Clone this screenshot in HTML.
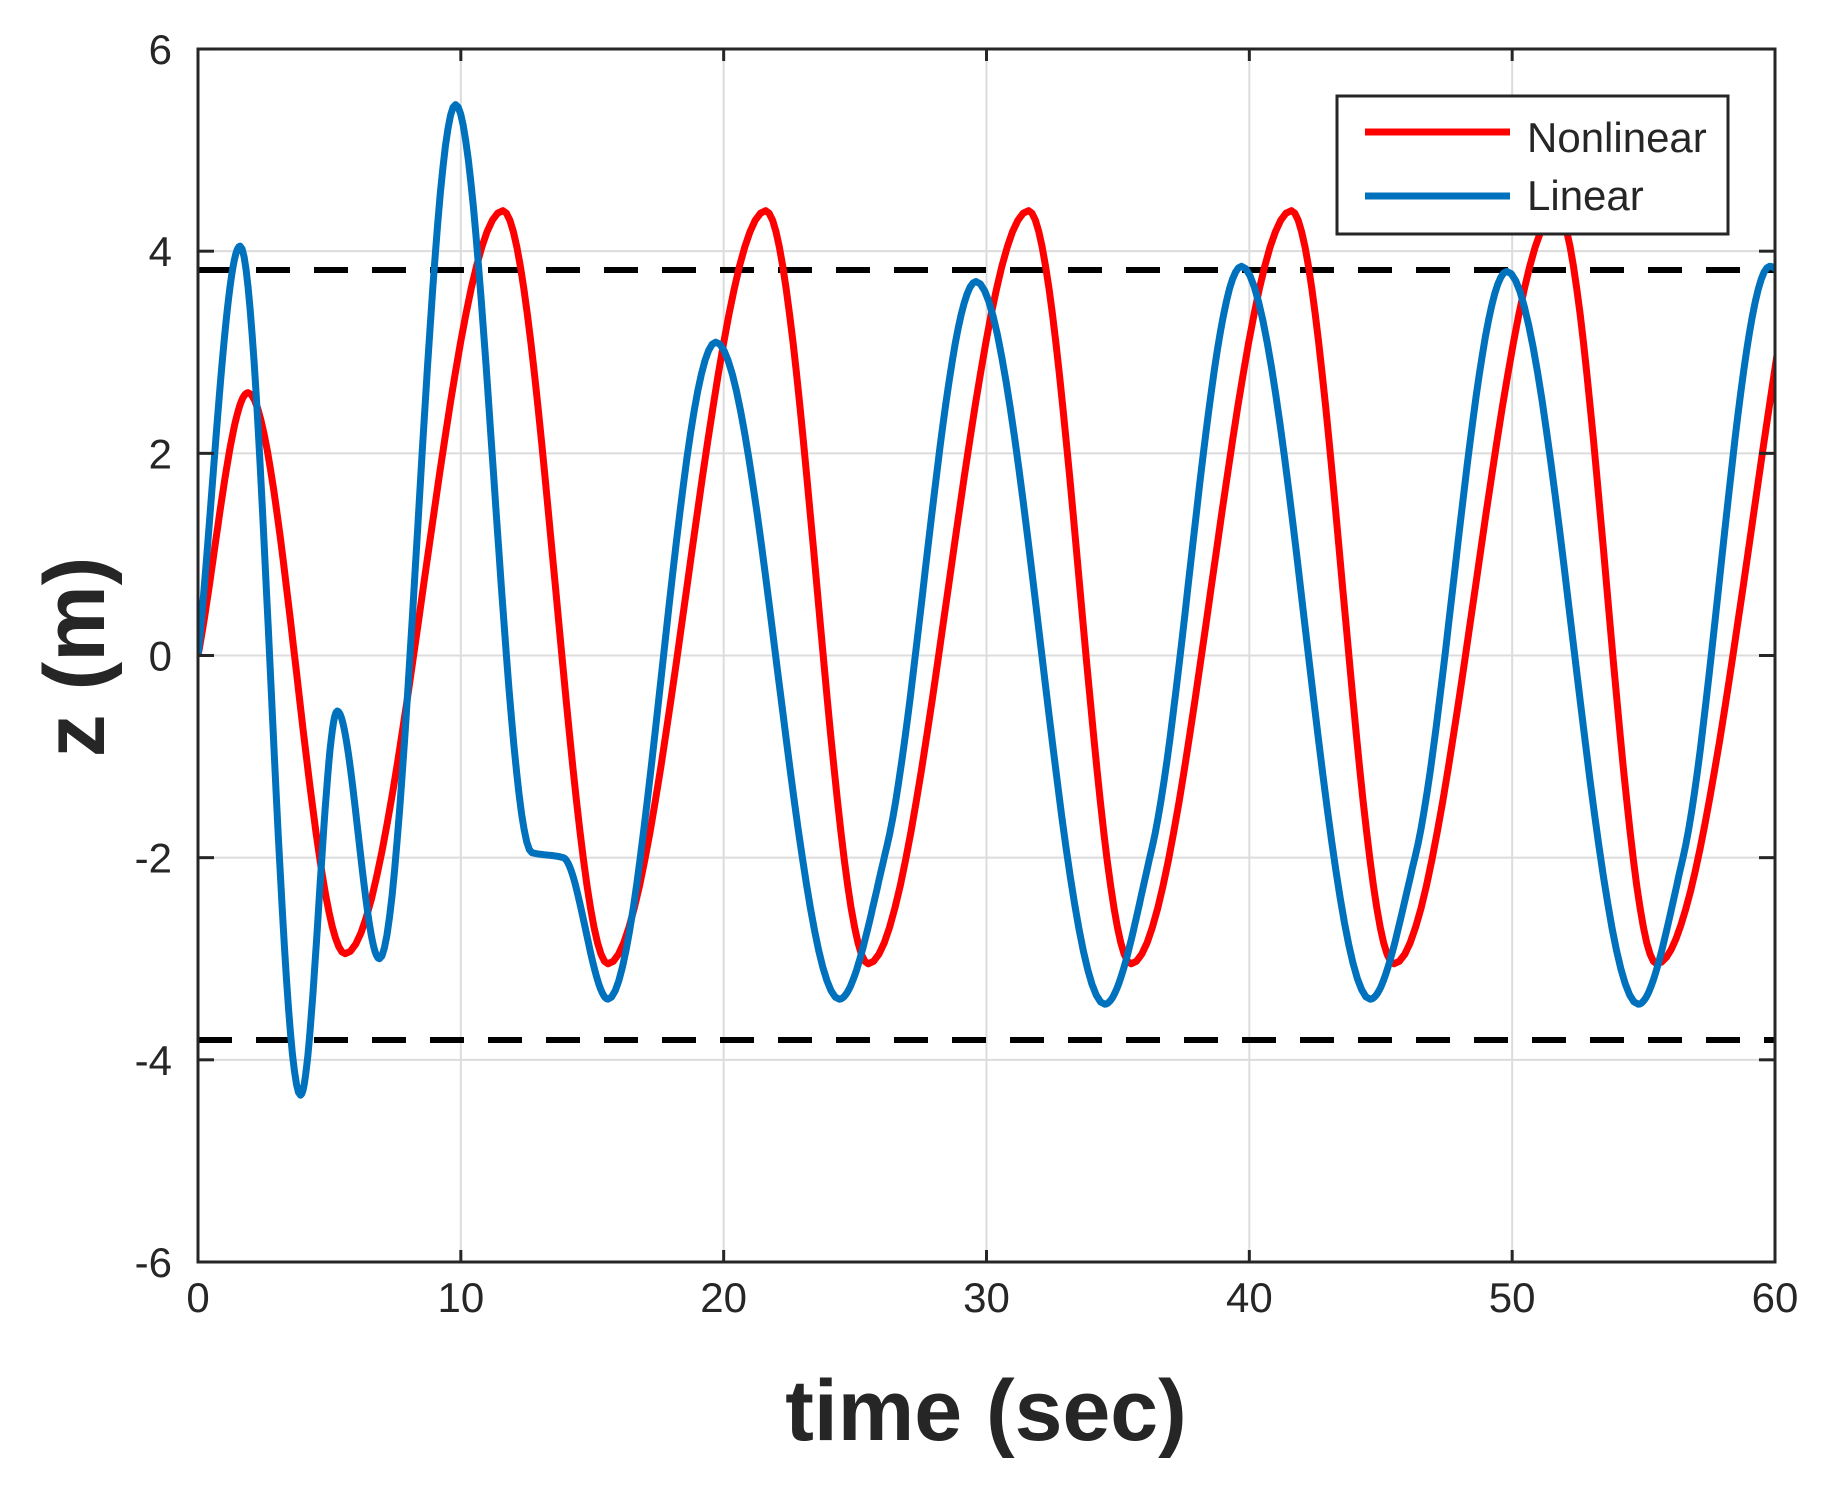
<!DOCTYPE html>
<html><head><meta charset="utf-8"><style>
html,body{margin:0;padding:0;background:#fff;}
svg text{font-family:"Liberation Sans",Arial,sans-serif;fill:#262626;}
</style></head><body>
<svg id="s" width="1822" height="1491" viewBox="0 0 1822 1491" xmlns="http://www.w3.org/2000/svg">
<defs><clipPath id="c"><rect x="198" y="49" width="1577" height="1213"/></clipPath></defs>
<rect width="1822" height="1491" fill="#fff"/>
<g id="grid" stroke="#dcdcdc" stroke-width="2"></g>
<g clip-path="url(#c)">
<line x1="198" x2="1775" y1="270" y2="270" stroke="#000" stroke-width="6" stroke-dasharray="34,24"/>
<line x1="198" x2="1775" y1="1040" y2="1040" stroke="#000" stroke-width="6" stroke-dasharray="34,24"/>
<path id="red" fill="none" stroke="#ff0000" stroke-width="7" stroke-linejoin="round"/>
<path id="blue" fill="none" stroke="#0072bd" stroke-width="7" stroke-linejoin="round"/>
</g>
<rect x="198" y="49" width="1577" height="1213" fill="none" stroke="#262626" stroke-width="3"/>
<g id="ticks" stroke="#262626" stroke-width="3"></g>
<g id="labels" font-size="42" style="fill:#333"></g>
<text x="986" y="1440" font-size="86" font-weight="bold" text-anchor="middle">time (sec)</text>
<text transform="translate(104,657) rotate(-90)" font-size="86" font-weight="bold" text-anchor="middle">z (m)</text>
<rect x="1337" y="96" width="391" height="138" fill="#fff" stroke="#262626" stroke-width="3"/>
<line x1="1365" x2="1510" y1="132" y2="132" stroke="#ff0000" stroke-width="7"/>
<line x1="1365" x2="1510" y1="196" y2="196" stroke="#0072bd" stroke-width="7"/>
<text x="1527" y="152" font-size="42">Nonlinear</text>
<text x="1527" y="210" font-size="42">Linear</text>
</svg>
<script>
var X=function(t){return 198+t*1577/60;},Y=function(z){return 655.5-z*101.08;};
var NS="http://www.w3.org/2000/svg";
function el(p,n,a,txt){var e=document.createElementNS(NS,n);for(var k in a)e.setAttribute(k,a[k]);if(txt!==undefined)e.textContent=txt;document.getElementById(p).appendChild(e);}
for(var t=10;t<60;t+=10){el("grid","line",{x1:X(t),x2:X(t),y1:49,y2:1262});}
for(var z=-4;z<=4;z+=2){el("grid","line",{x1:198,x2:1775,y1:Y(z),y2:Y(z)});}
for(var t=0;t<=60;t+=10){el("ticks","line",{x1:X(t),x2:X(t),y1:1262,y2:1250});el("ticks","line",{x1:X(t),x2:X(t),y1:49,y2:61});
 el("labels","text",{x:X(t),y:1312,"text-anchor":"middle"},String(t));}
for(var z=-6;z<=6;z+=2){el("ticks","line",{x1:198,x2:214,y1:Y(z),y2:Y(z)});el("ticks","line",{x1:1775,x2:1759,y1:Y(z),y2:Y(z)});
 el("labels","text",{x:172,y:Y(z)+15,"text-anchor":"end"},String(z));}
function mono(P){var n=P.length,d=[],m=[];
 for(var i=0;i<n-1;i++)d.push((P[i+1][1]-P[i][1])/(P[i+1][0]-P[i][0]));
 m[0]=d[0];m[n-1]=d[n-2];
 for(var i=1;i<n-1;i++){if(d[i-1]*d[i]<=0)m[i]=0;else{var w1=2*(P[i+1][0]-P[i][0])+(P[i][0]-P[i-1][0]),w2=(P[i+1][0]-P[i][0])+2*(P[i][0]-P[i-1][0]);m[i]=(w1+w2)/(w1/d[i-1]+w2/d[i]);}}
 var s="";
 for(var i=0;i<n-1;i++){var h=P[i+1][0]-P[i][0];
  for(var k=0;k<=30;k++){var u=k/30,h00=2*u*u*u-3*u*u+1,h10=u*u*u-2*u*u+u,h01=-2*u*u*u+3*u*u,h11=u*u*u-u*u;
   var z=h00*P[i][1]+h10*h*m[i]+h01*P[i+1][1]+h11*h*m[i+1],t=P[i][0]+u*h;
   s+=(s?"L":"M")+X(t).toFixed(1)+","+Y(z).toFixed(1);}}
 return s;}
var R=[[0,0],[1.9,2.6],[5.6,-2.95],[11.6,4.4],[15.6,-3.05],[21.6,4.4],[25.5,-3.05],[31.6,4.4],[35.5,-3.05],[41.6,4.4],[45.5,-3.05],[51.7,4.4],[55.5,-3.05],[61.0,4.4]];
var B=[[0,0],[1.6,4.05],[3.9,-4.35],[5.3,-0.55],[6.9,-3.0],[9.8,5.45],[12.7,-1.95],[13.9,-2.0],[15.6,-3.4],[19.7,3.1],[24.4,-3.4],[26.2,-1.9],[29.6,3.7],[34.5,-3.45],[36.3,-1.9],[39.7,3.85],[44.6,-3.4],[46.3,-2.0],[49.8,3.8],[54.8,-3.45],[56.5,-2.0],[59.8,3.85],[61.5,3.0]];
document.getElementById("red").setAttribute("d",mono(R));
document.getElementById("blue").setAttribute("d",mono(B));
</script>
</body></html>
